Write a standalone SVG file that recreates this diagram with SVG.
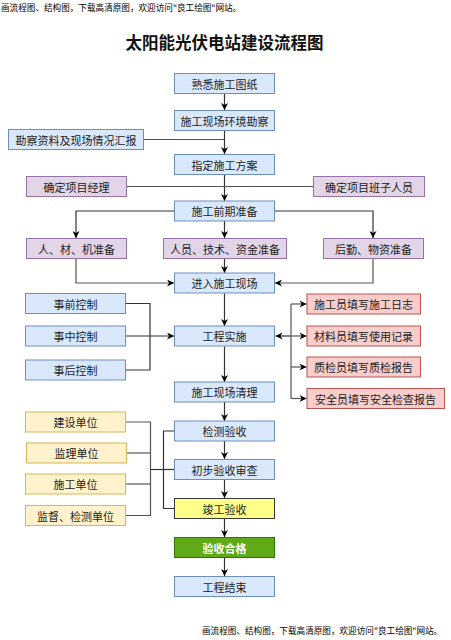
<svg xmlns="http://www.w3.org/2000/svg" width="451" height="640" viewBox="0 0 451 640">
<defs>
<marker id="arr" viewBox="0 0 10 10" refX="10" refY="5" markerWidth="7" markerHeight="7" markerUnits="userSpaceOnUse" orient="auto">
<path d="M0,0 L10,5 L0,10 L3,5 Z" fill="#000"/>
</marker>
<style>
text{font-family:"Noto Sans CJK SC","Noto Sans",sans-serif;}
.t{font-size:11px;fill:#222;text-anchor:middle;dominant-baseline:central;}
.blue{fill:#dae8fc;stroke:#6c8ebf;}
.pur{fill:#e1d5e7;stroke:#9673a6;}
.red{fill:#f8cecc;stroke:#b85450;}
.yel{fill:#fff2cc;stroke:#d6b656;}
.yy{fill:#ffff88;stroke:#36393d;}
.grn{fill:#60a917;stroke:#2d7600;}
rect{stroke-width:1;}
.c{fill:none;stroke:#333;stroke-width:1.2;}
.g{fill:none;stroke:#555;stroke-width:1.2;}
.a{marker-end:url(#arr);}
.wm{font-size:8.6px;fill:#000;}
</style>
</defs>
<rect width="451" height="640" fill="#fff"/>
<text class="wm" x="1" y="11">画流程图、结构图，下载高清原图，欢迎访问"良工绘图"网站。</text>
<text x="224.5" y="49" font-size="16.5" font-weight="bold" text-anchor="middle" fill="#111">太阳能光伏电站建设流程图</text>

<g id="connectors">
<path class="c a" d="M224.5,93.5 V110"/>
<path class="c a" d="M224.5,130.5 V154"/>
<path class="g" d="M144,139.5 H224.5"/>
<path class="c a" d="M224.5,174.5 V201"/>
<path class="g" d="M126,186.5 H313"/>
<path class="c a" d="M174,211 H76 V238"/>
<path class="c a" d="M275,211 H373 V238"/>
<path class="c a" d="M224.5,221 V238"/>
<path class="c a" d="M224.5,258.5 V273"/>
<path class="g a" d="M76,258.5 V283 H174"/>
<path class="g a" d="M373,258.5 V283 H275"/>
<path class="c a" d="M224.5,293.5 V326"/>
<path class="c" d="M126,303.5 H150 V370 H126"/>
<path class="c a" d="M126,336 H174"/>
<path class="c a" d="M291,336 H275.5"/>
<path class="g" d="M291,304 V398.5"/>
<path class="g a" d="M291,304 H306.5"/>
<path class="g a" d="M291,336 H306.5"/>
<path class="g a" d="M291,367 H306.5"/>
<path class="g a" d="M291,398.5 H306.5"/>
<path class="c a" d="M224.5,346.5 V382"/>
<path class="c a" d="M224.5,402 V421"/>
<path class="c a" d="M224.5,441 V459"/>
<path class="c a" d="M224.5,480 V498"/>
<path class="c a" d="M224.5,518.5 V537"/>
<path class="c a" d="M224.5,558 V576"/>
<path class="g" d="M126,422 H150.5 V515.5 H126"/>
<path class="g" d="M126,453 H150.5"/>
<path class="g" d="M126,484 H150.5"/>
<path class="c" d="M150.5,469.5 H174"/>
<path class="c" d="M174,431 H163.5 V508.5 H174"/>
</g>

<g id="n1"><rect class="blue" x="174.5" y="73.5" width="100" height="20"/><text class="t" x="224.5" y="83.5">熟悉施工图纸</text></g>
<g id="n2"><rect class="blue" x="174.5" y="110.5" width="100" height="20"/><text class="t" x="224.5" y="120.5">施工现场环境勘察</text></g>
<g id="n3"><rect class="blue" x="8.5" y="129.5" width="135" height="20"/><text class="t" x="76" y="139.5">勘察资料及现场情况汇报</text></g>
<g id="n4"><rect class="blue" x="174.5" y="154.5" width="100" height="20"/><text class="t" x="224.5" y="164.5">指定施工方案</text></g>
<g id="n5"><rect class="pur" x="26.5" y="176.5" width="100" height="20"/><text class="t" x="76.5" y="186.5">确定项目经理</text></g>
<g id="n6"><rect class="pur" x="313.5" y="176.5" width="111" height="20"/><text class="t" x="369" y="186.5">确定项目班子人员</text></g>
<g id="n7"><rect class="blue" x="174.5" y="201" width="100" height="20"/><text class="t" x="224.5" y="211">施工前期准备</text></g>
<g id="n8"><rect class="pur" x="26.5" y="238.5" width="100" height="20"/><text class="t" x="76.5" y="248.5">人、材、机准备</text></g>
<g id="n9"><rect class="pur" x="163.5" y="238.5" width="123" height="20"/><text class="t" x="225" y="248.5">人员、技术、资金准备</text></g>
<g id="n10"><rect class="pur" x="323.5" y="238.5" width="100" height="20"/><text class="t" x="373.5" y="248.5">后勤、物资准备</text></g>
<g id="n11"><rect class="blue" x="174.5" y="273" width="100" height="20"/><text class="t" x="224.5" y="283">进入施工现场</text></g>
<g id="n12"><rect class="blue" x="25.5" y="293.5" width="100" height="20"/><text class="t" x="75.5" y="303.5">事前控制</text></g>
<g id="n13"><rect class="blue" x="25.5" y="326" width="100" height="20"/><text class="t" x="75.5" y="336">事中控制</text></g>
<g id="n14"><rect class="blue" x="25.5" y="360" width="100" height="20"/><text class="t" x="75.5" y="370">事后控制</text></g>
<g id="n15"><rect class="blue" x="174.5" y="326" width="100" height="20"/><text class="t" x="224.5" y="336">工程实施</text></g>
<g id="n16"><rect class="red" x="307" y="294" width="113.5" height="20"/><text class="t" x="363.5" y="304">施工员填写施工日志</text></g>
<g id="n17"><rect class="red" x="307" y="326" width="113.5" height="20"/><text class="t" x="363.5" y="336">材料员填写使用记录</text></g>
<g id="n18"><rect class="red" x="307" y="357" width="113.5" height="20"/><text class="t" x="363.5" y="367">质检员填写质检报告</text></g>
<g id="n19"><rect class="red" x="307" y="388.5" width="137.5" height="20"/><text class="t" x="375.5" y="398.5">安全员填写安全检查报告</text></g>
<g id="n20"><rect class="blue" x="174.5" y="382" width="100" height="20"/><text class="t" x="224.5" y="392">施工现场清理</text></g>
<g id="n21"><rect class="yel" x="25.5" y="412" width="100" height="20"/><text class="t" x="75.5" y="422">建设单位</text></g>
<g id="n22"><rect class="yel" x="26.5" y="443" width="100" height="20"/><text class="t" x="76.5" y="453">监理单位</text></g>
<g id="n23"><rect class="yel" x="25.5" y="474" width="100" height="20"/><text class="t" x="75.5" y="484">施工单位</text></g>
<g id="n24"><rect class="yel" x="25.5" y="505.5" width="100" height="20"/><text class="t" x="75.5" y="515.5">监督、检测单位</text></g>
<g id="n25"><rect class="blue" x="174.5" y="421" width="100" height="20"/><text class="t" x="224.5" y="431">检测验收</text></g>
<g id="n26"><rect class="blue" x="174.5" y="459.5" width="100" height="20"/><text class="t" x="224.5" y="469.5">初步验收审查</text></g>
<g id="n27"><rect class="yy" x="174.5" y="498.5" width="100" height="20"/><text class="t" x="224.5" y="508.5">竣工验收</text></g>
<g id="n28"><rect class="grn" x="174.5" y="537.5" width="100" height="20"/><text class="t" x="224.5" y="547.5" style="fill:#fff;font-weight:bold">验收合格</text></g>
<g id="n29"><rect class="blue" x="174.5" y="576.5" width="100" height="20"/><text class="t" x="224.5" y="586.5">工程结束</text></g>

<text class="wm" x="202" y="634">画流程图、结构图，下载高清原图，欢迎访问"良工绘图"网站。</text>
</svg>
